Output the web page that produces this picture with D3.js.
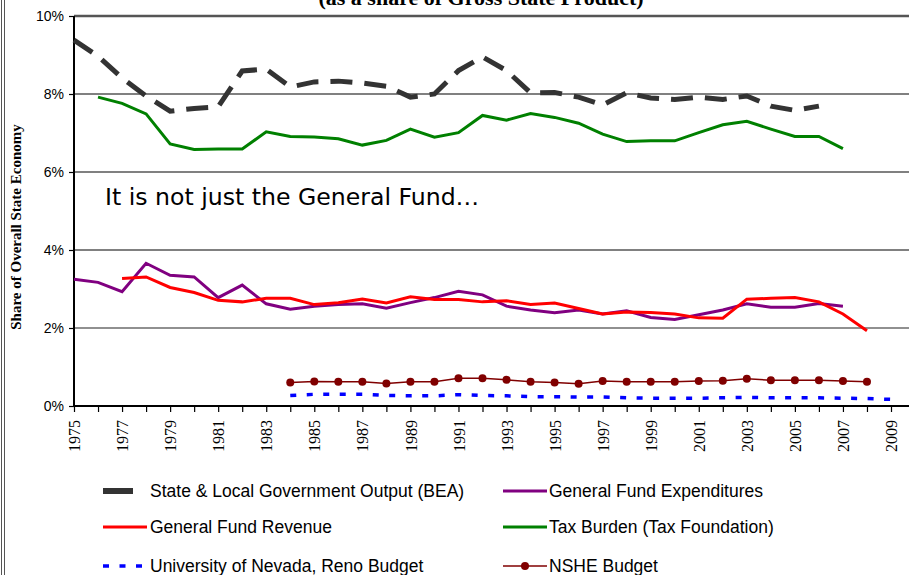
<!DOCTYPE html>
<html>
<head>
<meta charset="utf-8">
<script src="https://cdn.jsdelivr.net/npm/d3@7"></script>
<style>
  html, body { margin: 0; padding: 0; background: #fff; }
  svg { display: block; }
</style>
</head>
<body>
<svg id="chart" width="909" height="575"></svg>
<script>
// ---------- DATA ----------
const years = d3.range(1975, 2010);
const yTicks = [0, 2, 4, 6, 8, 10];
const xLabelYears = [1975,1977,1979,1981,1983,1985,1987,1989,1991,1993,1995,1997,1999,2001,2003,2005,2007,2009];

const beaYears = d3.range(1975, 2007);
const beaValues = [9.38,8.97,8.41,7.95,7.56,7.63,7.67,8.59,8.64,8.18,8.31,8.33,8.28,8.2,7.92,8.0,8.6,8.95,8.6,8.03,8.04,7.92,7.72,8.03,7.9,7.86,7.92,7.86,7.95,7.69,7.58,7.69];

const taxYears = d3.range(1976, 2008);
const taxValues = [7.92,7.76,7.49,6.72,6.58,6.59,6.59,7.03,6.91,6.9,6.85,6.69,6.81,7.1,6.89,7.01,7.45,7.33,7.5,7.4,7.25,6.97,6.78,6.8,6.8,7.01,7.21,7.3,7.1,6.91,6.91,6.6];

const expYears = d3.range(1975, 2008);
const expValues = [3.25,3.17,2.93,3.66,3.35,3.31,2.78,3.1,2.62,2.48,2.56,2.6,2.62,2.51,2.65,2.78,2.94,2.85,2.56,2.46,2.39,2.46,2.36,2.44,2.27,2.22,2.34,2.46,2.62,2.53,2.53,2.63,2.56];

const revYears = d3.range(1977, 2009);
const revValues = [3.27,3.31,3.04,2.91,2.71,2.67,2.76,2.76,2.6,2.65,2.74,2.64,2.8,2.73,2.73,2.67,2.7,2.6,2.64,2.5,2.36,2.41,2.4,2.36,2.26,2.25,2.74,2.76,2.78,2.67,2.36,1.93];

const nsheYears = d3.range(1984, 2009);
const nsheValues = [0.6,0.63,0.62,0.62,0.58,0.62,0.62,0.71,0.71,0.67,0.62,0.6,0.57,0.64,0.62,0.62,0.62,0.64,0.65,0.7,0.66,0.66,0.66,0.64,0.62];

const unrYears = d3.range(1984, 2010);
const unrValues = [0.27,0.3,0.3,0.3,0.27,0.26,0.26,0.29,0.27,0.26,0.24,0.24,0.23,0.23,0.21,0.2,0.2,0.2,0.21,0.22,0.21,0.21,0.21,0.2,0.19,0.17];

const legendLabels = [
  "State & Local Government Output (BEA)",
  "General Fund Expenditures",
  "General Fund Revenue",
  "Tax Burden (Tax Foundation)",
  "University of Nevada, Reno Budget",
  "NSHE Budget"
];

// ---------- LAYOUT ----------
const svg = d3.select("#chart");
const x = d3.scaleLinear().domain([1975, 2009]).range([74, 891]);
const y = d3.scaleLinear().domain([0, 10]).range([406, 16]);
const plotRight = 909;

// left page frame (double line)
svg.append("line").attr("x1",1.5).attr("x2",1.5).attr("y1",0).attr("y2",575).attr("stroke","#555").attr("stroke-width",1);
svg.append("line").attr("x1",4.5).attr("x2",4.5).attr("y1",0).attr("y2",575).attr("stroke","#555").attr("stroke-width",1);

// title (cut off at top in the original)
svg.append("text")
  .attr("x", 481).attr("y", 5)
  .attr("text-anchor","middle")
  .attr("font-family","'Liberation Serif', 'Times New Roman', serif")
  .attr("font-weight","bold")
  .attr("font-size", 22)
  .text("(as a share of Gross State Product)");

// gridlines
svg.append("g").selectAll("line").data(yTicks.filter(d => d > 0)).join("line")
  .attr("x1", 74).attr("x2", plotRight)
  .attr("y1", d => y(d)).attr("y2", d => y(d))
  .attr("stroke", d => d === 10 ? "#555" : (d === 2 ? "#222" : "#808080"))
  .attr("stroke-width", d => d === 10 ? 2.5 : (d === 2 ? 1.2 : 1.8));

// y axis
const yAxis = d3.axisLeft(y).tickValues(yTicks).tickSize(5).tickFormat(d => d + "%");
const gy = svg.append("g").attr("transform","translate(74,0)").call(yAxis);
gy.select(".domain").remove();
gy.selectAll(".tick line").attr("stroke","#000").attr("stroke-width",1.2);
gy.selectAll(".tick text")
  .attr("font-family","'Liberation Sans', Arial, sans-serif")
  .attr("font-size", 14).attr("fill","#000").attr("x", -10);
svg.append("line").attr("x1",74).attr("x2",74).attr("y1",16).attr("y2",407).attr("stroke","#000").attr("stroke-width",2);

// x axis
const xAxis = d3.axisBottom(x).tickValues(years).tickSize(6)
  .tickFormat(d => xLabelYears.includes(d) ? String(d) : "");
const gx = svg.append("g").attr("transform","translate(0,406)").call(xAxis);
gx.select(".domain").remove();
gx.selectAll(".tick line").attr("stroke","#000").attr("stroke-width",1.2);
gx.selectAll(".tick text")
  .attr("font-family","'Liberation Serif', 'Times New Roman', serif")
  .attr("font-size", 16).attr("fill","#000")
  .attr("transform","rotate(-90)")
  .attr("text-anchor","end")
  .attr("x", -14).attr("y", 0).attr("dy","0.35em");
svg.append("line").attr("x1",73).attr("x2",plotRight).attr("y1",406).attr("y2",406).attr("stroke","#000").attr("stroke-width",2);

// y axis title
svg.append("text")
  .attr("transform","translate(21,227) rotate(-90)")
  .attr("text-anchor","middle")
  .attr("font-family","'Liberation Serif', 'Times New Roman', serif")
  .attr("font-weight","bold")
  .attr("font-size", 15)
  .text("Share of Overall State Economy");

// ---------- SERIES ----------
const line = d3.line().x(d => x(d[0])).y(d => y(d[1]));
const zip = (a, b) => a.map((v, i) => [v, b[i]]);

svg.append("path").datum(zip(taxYears, taxValues)).attr("d", line)
  .attr("fill","none").attr("stroke","#008000").attr("stroke-width",3);

svg.append("path").datum(zip(beaYears, beaValues)).attr("d", line)
  .attr("fill","none").attr("stroke","#333").attr("stroke-width",5)
  .attr("stroke-dasharray","22,12");

svg.append("path").datum(zip(expYears, expValues)).attr("d", line)
  .attr("fill","none").attr("stroke","#800080").attr("stroke-width",3);

svg.append("path").datum(zip(revYears, revValues)).attr("d", line)
  .attr("fill","none").attr("stroke","#ff0000").attr("stroke-width",3);

svg.append("path").datum(zip(unrYears, unrValues)).attr("d", line)
  .attr("fill","none").attr("stroke","#0000ff").attr("stroke-width",3.5)
  .attr("stroke-dasharray","6,10.5");

svg.append("path").datum(zip(nsheYears, nsheValues)).attr("d", line)
  .attr("fill","none").attr("stroke","#800000").attr("stroke-width",1.5);
svg.append("g").selectAll("circle").data(zip(nsheYears, nsheValues)).join("circle")
  .attr("cx", d => x(d[0])).attr("cy", d => y(d[1])).attr("r", 4)
  .attr("fill","#800000");

// annotation
svg.append("text")
  .attr("x", 105).attr("y", 205)
  .attr("font-family","'DejaVu Sans', Verdana, sans-serif")
  .attr("font-size", 23.6)
  .attr("fill","#000")
  .text("It is not just the General Fund…");

// ---------- LEGEND ----------
const legRows = [491, 527, 566];
const leg = svg.append("g").attr("font-family","'Liberation Sans', Arial, sans-serif").attr("font-size",17.5);
const items = [
  {col:0,row:0},{col:1,row:0},{col:0,row:1},{col:1,row:1},{col:0,row:2},{col:1,row:2}
];
const colText = [150, 549];
items.forEach((it, i) => {
  const yy = legRows[it.row];
  leg.append("text").attr("x", colText[it.col]).attr("y", yy).attr("dy","0.35em")
    .attr("fill","#000").text(legendLabels[i]);
});
// symbols
leg.append("line").attr("x1",103).attr("x2",133).attr("y1",491).attr("y2",491).attr("stroke","#333").attr("stroke-width",6);
leg.append("line").attr("x1",503).attr("x2",547).attr("y1",491).attr("y2",491).attr("stroke","#800080").attr("stroke-width",3);
leg.append("line").attr("x1",103).attr("x2",147).attr("y1",527).attr("y2",527).attr("stroke","#ff0000").attr("stroke-width",3);
leg.append("line").attr("x1",503).attr("x2",547).attr("y1",527).attr("y2",527).attr("stroke","#008000").attr("stroke-width",3);
leg.append("line").attr("x1",103).attr("x2",147).attr("y1",566).attr("y2",566).attr("stroke","#0000ff").attr("stroke-width",3.5).attr("stroke-dasharray","6,10.5");
leg.append("line").attr("x1",503).attr("x2",547).attr("y1",566).attr("y2",566).attr("stroke","#800000").attr("stroke-width",1.5);
leg.append("circle").attr("cx",525).attr("cy",566).attr("r",4).attr("fill","#800000");
</script>
</body>
</html>
